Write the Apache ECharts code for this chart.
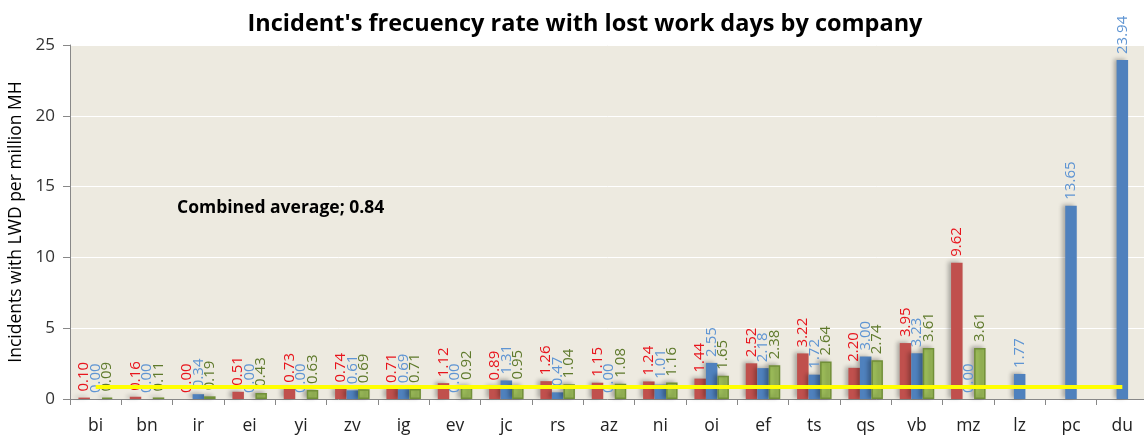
<!DOCTYPE html>
<html>
<head>
<meta charset="utf-8">
<script src="https://cdn.jsdelivr.net/npm/echarts@6/dist/echarts.min.js"></script>
<style>
html,body{margin:0;padding:0;background:#fff;}
#chart{width:1144px;height:439px;}
</style>
</head>
<body>
<div id="chart"></div>
<script>
const categories = ['bi','bn','ir','ei','yi','zv','ig','ev','jc','rs','az','ni','oi','ef','ts','qs','vb','mz','lz','pc','du'];
const redValues   = [0.10,0.16,0.00,0.51,0.73,0.74,0.71,1.12,0.89,1.26,1.15,1.24,1.44,2.52,3.22,2.20,3.95,9.62,null,null,null];
const blueValues  = [0.00,0.00,0.34,0.00,0.00,0.61,0.69,0.00,1.31,0.47,0.00,1.01,2.55,2.18,1.72,3.00,3.23,0.00,1.77,13.65,23.94];
const greenValues = [0.09,0.11,0.19,0.43,0.63,0.69,0.71,0.92,0.95,1.04,1.08,1.16,1.65,2.38,2.64,2.74,3.61,3.61,null,null,null];
const averageValue = 0.84;
const averageValues = categories.map(() => averageValue);
const yTicks = [0,5,10,15,20,25];

const FONT = '"Open Sans", "Noto Sans", sans-serif';
const chart = echarts.init(document.getElementById('chart'));

function barSeries(name, data, fill, labelColor, border) {
  return {
    name: name,
    type: 'bar',
    data: data,
    barWidth: 11.5,
    barGap: '0%',
    z: 2,
    itemStyle: {
      color: fill,
      borderColor: border || fill,
      borderWidth: border ? 1.5 : 0,
      shadowColor: 'rgba(0,0,0,0.28)',
      shadowBlur: 4,
      shadowOffsetX: -3,
      shadowOffsetY: -1
    },
    label: {
      show: true,
      position: 'top',
      rotate: 90,
      align: 'left',
      verticalAlign: 'middle',
      distance: 6,
      color: labelColor,
      fontFamily: FONT,
      fontSize: 15,
      formatter: p => p.value == null ? '' : Number(p.value).toFixed(2)
    }
  };
}

chart.setOption({
  animation: false,
  backgroundColor: '#ffffff',
  title: {
    text: "Incident's frecuency rate with lost work days by company",
    left: 580, top: 7, textAlign: 'center',
    textStyle: { fontFamily: FONT, fontWeight: 'bold', fontSize: 23.5, color: '#000' }
  },
  grid: { left: 70, right: -4, top: 45, bottom: 40, show: true, backgroundColor: '#edeae0', borderWidth: 0,
          containLabel: false, outerBoundsMode: 'none' },
  graphic: [{
    type: 'text', left: 177, top: 199,
    style: { text: 'Combined average; 0.84', font: 'bold 17.5px ' + FONT, fill: '#000' }
  }],
  xAxis: {
    type: 'category',
    data: categories,
    axisLine: { lineStyle: { color: '#888888', width: 1 } },
    axisTick: { show: true, length: 6, lineStyle: { color: '#888888' } },
    axisLabel: { fontFamily: FONT, fontSize: 17.5, color: '#222', margin: 18 }
  },
  yAxis: {
    type: 'value',
    min: 0, max: 25, interval: 5,
    name: 'Incidents with LWD per million MH',
    nameLocation: 'middle',
    nameGap: 42,
    nameTextStyle: { fontFamily: FONT, fontSize: 17.5, color: '#000' },
    axisLine: { show: true, lineStyle: { color: '#888888' } },
    axisTick: { show: true, length: 7, lineStyle: { color: '#888888' } },
    axisLabel: { fontFamily: FONT, fontSize: 17, color: '#333', margin: 15,
      formatter: v => yTicks.includes(v) ? String(v) : '' },
    splitLine: { show: true, lineStyle: { color: '#ffffff', width: 1 } }
  },
  series: [
    barSeries('red', redValues, '#c0504d', '#e8141c'),
    barSeries('blue', blueValues, '#4f81bd', '#5f95d3'),
    barSeries('green', greenValues, '#9bbb59', '#5f7a2c', '#718f38'),
    {
      name: 'average', type: 'line', data: averageValues, z: 5,
      symbol: 'none', silent: true,
      lineStyle: { color: '#ffff00', width: 4 }
    }
  ]
});
</script>
</body>
</html>
